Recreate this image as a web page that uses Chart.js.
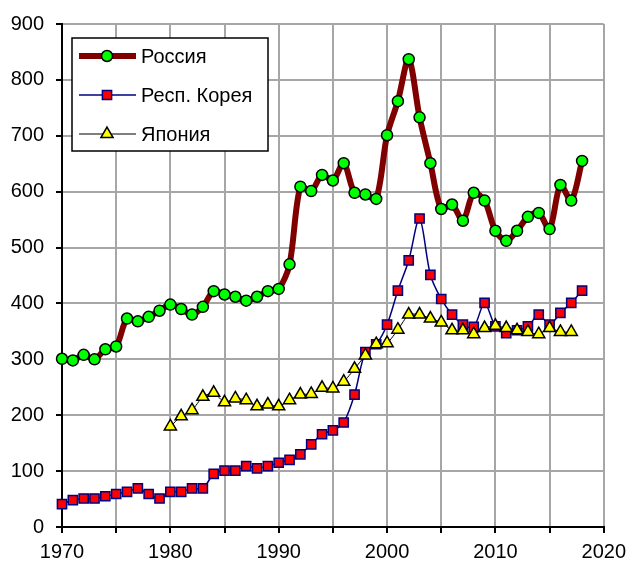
<!DOCTYPE html>
<html>
<head>
<meta charset="utf-8">
<script src="https://cdn.jsdelivr.net/npm/chart.js@4/dist/chart.umd.min.js"></script>
<style>
  html, body { margin: 0; padding: 0; background: #fff; }
  canvas { display: block; }
</style>
</head>
<body>
<canvas id="c" width="633" height="563"></canvas>
<script>
// ---- data ----
const seriesLabels = ['Россия', 'Респ. Корея', 'Япония'];

const yearsRU = [1970,1971,1972,1973,1974,1975,1976,1977,1978,1979,
                 1980,1981,1982,1983,1984,1985,1986,1987,1988,1989,
                 1990,1991,1992,1993,1994,1995,1996,1997,1998,1999,
                 2000,2001,2002,2003,2004,2005,2006,2007,2008,2009,
                 2010,2011,2012,2013,2014,2015,2016,2017,2018];
const russia = [301,298,308,300,318,323,373,368,376,387,
                398,390,380,394,422,416,412,405,412,422,
                426,470,609,601,630,620,651,598,595,587,
                701,762,837,733,651,569,577,548,598,584,
                530,512,530,555,562,533,612,584,655];

const yearsKR = yearsRU;
const korea = [41,48,51,51,55,59,63,69,59,51,
               63,63,69,69,95,101,101,109,105,109,
               115,120,130,148,166,173,187,237,313,327,
               362,423,477,552,451,408,380,362,358,401,
               359,347,352,359,380,362,383,401,423];

const yearsJP = [1980,1981,1982,1983,1984,1985,1986,1987,1988,1989,
                 1990,1991,1992,1993,1994,1995,1996,1997,1998,1999,
                 2000,2001,2002,2003,2004,2005,2006,2007,2008,2009,
                 2010,2011,2012,2013,2014,2015,2016,2017];
const japan = [180,198,209,233,240,223,230,227,216,219,
               216,227,237,238,249,248,260,283,307,327,
               329,353,380,380,373,366,352,352,345,356,
               360,356,352,349,345,356,349,349];

const xMin = 1970, xMax = 2020, xStep = 5, xLabelStep = 10;
const yMin = 0, yMax = 900, yStep = 100;

const toPts = (xs, ys) => ys.map((v, i) => ({ x: xs[i], y: v }));

// ---- legend drawn inside the plot, built from the datasets ----
const boxLegend = {
  id: 'boxLegend',
  afterDatasetsDraw(chart) {
    const ctx = chart.ctx;
    const bx = 72, by = 38, bw = 196, bh = 113;
    ctx.save();
    ctx.fillStyle = '#fff';
    ctx.fillRect(bx, by, bw, bh);
    ctx.lineWidth = 1.5;
    ctx.strokeStyle = '#000';
    ctx.strokeRect(bx, by, bw, bh);
    const rows = [56, 95, 134];
    [0, 1, 2].forEach((di, r) => {
      const ds = chart.data.datasets[di];
      const y = rows[r];
      ctx.beginPath();
      ctx.lineWidth = ds.borderWidth;
      ctx.strokeStyle = ds.borderColor;
      ctx.lineCap = 'butt';
      ctx.moveTo(79, y);
      ctx.lineTo(136, y);
      ctx.stroke();
      ctx.fillStyle = ds.pointBackgroundColor;
      ctx.strokeStyle = ds.pointBorderColor;
      ctx.lineWidth = ds.pointBorderWidth;
      Chart.helpers.drawPoint(ctx, {
        pointStyle: ds.pointStyle,
        radius: ds.pointRadius,
        borderWidth: ds.pointBorderWidth,
        rotation: 0
      }, 107, y);
      ctx.fillStyle = '#000';
      ctx.font = '20px "Liberation Sans", Arial, sans-serif';
      ctx.textAlign = 'left';
      ctx.textBaseline = 'middle';
      ctx.fillText(ds.label, 141, y + 1);
    });
    ctx.restore();
  }
};

const font = { family: '"Liberation Sans", Arial, sans-serif', size: 20 };

new Chart(document.getElementById('c'), {
  type: 'line',
  data: {
    datasets: [
      {
        label: seriesLabels[0],
        data: toPts(yearsRU, russia),
        borderColor: '#800000',
        borderWidth: 6,
        tension: 0.3,
        pointStyle: 'circle',
        pointRadius: 5.5,
        pointBackgroundColor: '#00ff00',
        pointBorderColor: '#000000',
        pointBorderWidth: 1.5,
        clip: false,
        order: 0
      },
      {
        label: seriesLabels[1],
        data: toPts(yearsKR, korea),
        borderColor: '#000080',
        borderWidth: 1.5,
        tension: 0.3,
        pointStyle: 'rect',
        pointRadius: 6.5,
        pointBackgroundColor: '#ff0000',
        pointBorderColor: '#000080',
        pointBorderWidth: 1.5,
        clip: false,
        order: 2
      },
      {
        label: seriesLabels[2],
        data: toPts(yearsJP, japan),
        borderColor: '#000000',
        borderWidth: 1,
        tension: 0.2,
        pointStyle: 'triangle',
        pointRadius: 7,
        pointBackgroundColor: '#ffff00',
        pointBorderColor: '#000000',
        pointBorderWidth: 1.5,
        clip: false,
        order: 1
      }
    ]
  },
  options: {
    responsive: false,
    animation: false,
    devicePixelRatio: 1,
    layout: { padding: { left: 0, top: 23, right: 26, bottom: 0 } },
    plugins: { legend: { display: false }, tooltip: { enabled: false } },
    scales: {
      x: {
        type: 'linear',
        min: xMin, max: xMax,
        afterFit: (s) => { s.height = 36; },
        ticks: {
          stepSize: xStep,
          autoSkip: false,
          maxRotation: 0,
          padding: 7,
          color: '#000',
          font: font,
          callback: (v) => (v % xLabelStep === 0 ? String(v) : '')
        },
        grid: { color: '#a6a6a6', lineWidth: 2, tickColor: '#000', tickLength: 6, tickWidth: 2 },
        border: { color: '#000', width: 2 }
      },
      y: {
        min: yMin, max: yMax,
        afterFit: (s) => { s.width = 62; },
        ticks: { stepSize: yStep, color: '#000', font: font, padding: 12 },
        grid: { color: '#a6a6a6', lineWidth: 2, tickColor: '#000', tickLength: 6, tickWidth: 2 },
        border: { color: '#000', width: 2 }
      }
    }
  },
  plugins: [boxLegend]
});
</script>
</body>
</html>
